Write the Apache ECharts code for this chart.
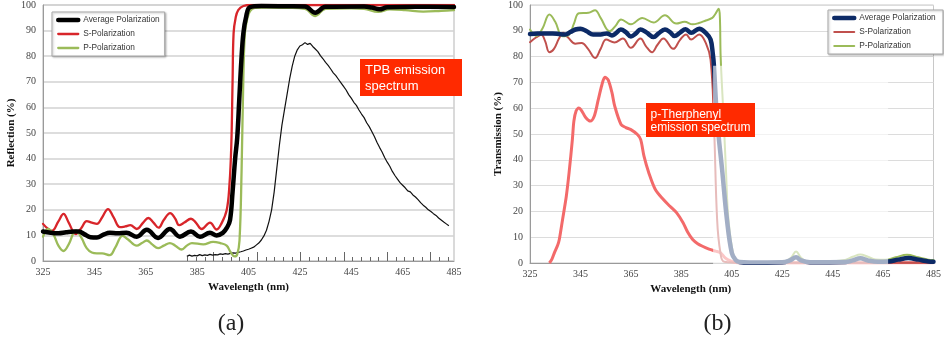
<!DOCTYPE html>
<html>
<head>
<meta charset="utf-8">
<script src="https://cdn.jsdelivr.net/npm/echarts@6/dist/echarts.min.js"></script>
<style>
html,body{margin:0;padding:0;background:#fff}
#chart{width:944px;height:343px}
</style>
</head>
<body>
<div id="chart"></div>
<script>
const SERIF = '"Liberation Serif", "Times New Roman", serif';
const SANS = '"Liberation Sans", Arial, sans-serif';

// shared wavelength axis labels (nm)
const wavelengthLabels = [325, 345, 365, 385, 405, 425, 445, 465, 485];
const legendNames = ['Average Polarization', 'S-Polarization', 'P-Polarization'];

// ---- (a) reflection, [wavelength nm, %] ----
const reflAvg = [[325,11.5],[328,11],[331,10.8],[334,11.2],[337,11.5],[339,11.5],[341,10.5],[343.5,9.3],[346,9.2],[348.5,10.3],[351,11],[354,10.8],[357.5,11],[361.5,9.5],[365.4,12.2],[369.8,9],[374.4,12.5],[378.3,9.5],[382.6,11.5],[386.1,9.5],[390,11],[392.6,10],[395,11],[396.6,13],[397.8,16],[398.8,27],[399.8,40],[400.6,48],[401.4,63],[402.2,78],[403,89],[404,95],[405.6,99.2],[410,99.6],[420,99.5],[427,99.4],[431,97],[435,99.3],[450,99.4],[453,99],[456,98.3],[459,99.1],[470,99.3],[485,99.2]];
const reflS = [[325,14.5],[327,12.5],[328.5,11.8],[331,15.5],[333,18.4],[335,15],[337.8,10.5],[340,13],[342,15.6],[344,15],[346,14.5],[348,17],[350.3,20.3],[352.5,17],[355,13.2],[357,13.5],[359,14],[361.5,12.5],[364,15],[366,16.8],[368,15],[370,13],[372,16],[374.5,18.7],[376.5,16.5],[378,14],[380,15],[382.6,16.5],[384.5,15],[386.8,12.5],[390,15],[392.6,12.3],[394.5,14.7],[396.5,19.8],[397.6,30],[398.3,45],[398.8,70],[399.2,89],[400,95],[401,98],[403,99.6],[406,100],[485,100]];
const reflP = [[325,9.5],[327,12.5],[329,10.5],[331,6],[333,3.9],[335,6.5],[337.8,12],[340,9],[342,5],[344,3.3],[346,3],[348,3],[351,2.3],[353,5],[356,9.8],[358,8.5],[361.5,6],[363.5,7],[365.4,8],[367.5,6.5],[369.8,5],[372,6],[374.4,7],[376.5,6],[379,4.5],[381,6],[383,7],[387.4,6.5],[391.2,7.5],[394,7],[396.5,6],[398,3.5],[399.6,1.8],[400.6,2.6],[401.5,8],[402.3,35],[403,72],[403.6,89],[404.5,94.5],[405.6,97.6],[407.5,98.9],[412,99],[420,98.9],[427,98.5],[431,95.7],[435,98.5],[445,98.7],[450,98.5],[455.5,97.3],[460,98.3],[466,98],[473,97.4],[480,97.7],[485,98]];
const tpbEmission = [[381,1.8],[382,2.3],[383,1.9],[384,2.2],[385,2.0],[386,2.5],[387,2.1],[388,2.4],[389,2.2],[390,2.6],[391,2.3],[392,2.5],[393,2.4],[394,2.8],[395,2.6],[396,2.9],[397,2.7],[398,3.0],[399,3.2],[400,3.1],[401,3.4],[402,3.6],[403,3.9],[404,4.3],[405,4.6],[406,5.0],[407,5.4],[408,6.2],[409,7.0],[410,8.2],[411,9.8],[412,12],[413,15.5],[414,20],[415,27],[416,36],[417,45],[418,53],[419,59],[420,65],[421,71],[422,76],[423,80],[424,82.5],[425,84],[426,84.5],[427,85.3],[428,84.6],[429,85],[430,83.8],[431,82.8],[432,81.8],[433,80.2],[434,79],[435,77.6],[436,76.4],[437,75],[438,73.5],[439,72.4],[440,71],[441,69.6],[442,68.2],[443,66.8],[444,65],[445,63.6],[446,62],[447,60.8],[448,59],[449,57.4],[450,56],[451,54],[452,52.5],[453,50.6],[454,48.6],[455,46.4],[456,44.4],[457,42.6],[458,40.4],[459,38.6],[460,37],[461,35],[462,33.4],[463,32],[464,30.6],[465,29.6],[466,28.6],[467,27.4],[468,27],[469,25.8],[470,25],[471,24],[472,22.8],[473,21.8],[474,21],[475,20],[476,19.3],[477,18.5],[478,17.8],[479,16.8],[480,16],[481,15.2],[482,14.5],[483,13.8]];
// scale of the inset emission plot: first tick (nm), spacing (nm), count, every 5th is long
const tpbScaleStart = 381.3, tpbScaleStep = 3.38, tpbScaleCount = 31, tpbScaleMajorOffset = 3;

// ---- (b) transmission, [wavelength nm, %] ----
const transAvg = [[325,88.8],[328,89],[331,89],[334,89],[337,88.7],[339,88.6],[341,89.5],[343,90.5],[345,90.8],[347.5,89.8],[350,88.6],[353,88.6],[355.5,89],[357.5,88.2],[359,89],[361,90.5],[363,89.5],[365,87.8],[367,89],[368.8,90.5],[371,89.5],[374,87.6],[376,89],[378.5,90.5],[380.5,89.5],[382.3,88],[384.5,89.3],[386.7,90.6],[388.9,89.2],[392.1,90.8],[394.7,89.2],[396.6,86.6],[397.5,81],[397.9,76.9],[399.2,55.6],[401.2,36],[403.1,16.8],[405,4],[406.5,1.2],[408,0.4],[412,0.2],[425,0.3],[428,1],[430.5,2.2],[432.5,1],[436,0.3],[450,0.4],[453,1],[456,1.8],[459,1],[463,0.5],[467,0.6],[471,1.3],[475,1.9],[479,1.3],[483,0.6],[485,0.5]];
const transS = [[325,85.6],[327.5,87.5],[329.5,88.5],[331,86],[332.7,81.7],[334.5,83],[336.5,87],[338.2,89.2],[340,87.5],[343,85],[345.5,85.3],[348,83],[350.8,79.5],[353,83],[355.2,86.6],[358.5,85.5],[361.8,87],[365,83.4],[368.8,87],[371,84],[373.4,81.7],[375.5,84.5],[377.9,87],[381.8,83],[384.5,86.5],[386.9,88.6],[388.9,86.6],[392.1,88.6],[394.7,85.3],[396.6,78.8],[397.9,55.6],[399.2,16.8],[400.5,4],[402,0.5],[410,0.1],[485,0.1]];
const transP = [[325,90.5],[327.6,88],[330,91],[332.7,96.3],[335,93.5],[337.9,87.9],[340.5,88.5],[342.5,93],[344.4,96.8],[348.2,97],[350.8,98],[353,95],[356.6,89.8],[359,92],[361.1,94.4],[365,92.5],[369.5,95],[374,93.2],[378.5,96],[383,92.8],[386.3,93.5],[389.5,92.5],[392,93],[394.7,94],[397.3,95],[398.5,96.5],[399.8,98.5],[400.3,95],[400.6,80],[401.8,55.6],[402.7,36],[403.7,16.8],[405.6,3.3],[407,1],[409,0.3],[420,0.3],[426,0.6],[428.5,2],[430.5,4.5],[432.5,2],[435,0.6],[445,0.7],[450,1.2],[453,2.4],[456,3.3],[459,2.4],[462,1.4],[466,1.3],[470,2.2],[474.5,3.2],[479,2.2],[483,1.3],[485,1.2]];
const terphenylEmission = [[332.7,0],[333.7,1.5],[334.7,4],[336,7],[336.6,9],[337.9,16.8],[339.4,25.9],[340.5,35],[341.8,47.8],[342.4,55],[343.3,59],[344.4,60.1],[345.5,59],[347,56.5],[348.9,55],[350.5,57],[352,63],[353.5,69],[354.7,72],[356,71],[357.5,66],[358.6,60.8],[361.1,53.7],[363,52.5],[365,51.7],[367.6,49.8],[368.9,47.8],[370.2,41.4],[372.1,35],[374.7,28.5],[377.9,24.6],[380.5,22],[383.1,19.5],[385.7,15.6],[387.5,12],[389.5,9.1],[391.5,7.5],[393.4,6.5],[396,5.4],[398.6,4.6],[400.5,4],[402.4,2],[404.5,0.8],[406.5,0.2],[410,0.1],[485,0.1]];
// washed-out band over the cut-off region: [nm from, nm to, % top]
const fadeBand = { from: 397.6, to: 467, top: 76.5 };

const tpbMinorTicks = [];
const tpbMajorTicks = [];
for (let i = 0; i < tpbScaleCount; i++) {
  const v = +(tpbScaleStart + i * tpbScaleStep).toFixed(2);
  tpbMinorTicks.push(v);
  if ((i - tpbScaleMajorOffset) % 5 === 0) tpbMajorTicks.push(v);
}

function wavelengthAxis(gridIndex, namePad) {
  return {
    type: 'value', gridIndex, min: 325, max: 485,
    name: 'Wavelength (nm)', nameLocation: 'middle', nameGap: 19,
    nameTextStyle: { fontFamily: SERIF, fontWeight: 'bold', fontSize: 11, color: '#111', padding: namePad },
    axisLine: { show: true, lineStyle: { color: '#9a9a9a', width: 1 } },
    axisTick: { show: false },
    axisLabel: { customValues: wavelengthLabels, fontFamily: SERIF, fontSize: 10, color: '#444', margin: 6 },
    splitLine: { show: false }
  };
}
function percentAxis(gridIndex, name, gap, gridColor, gridWidth) {
  return {
    type: 'value', gridIndex, min: 0, max: 100, interval: 10,
    name, nameLocation: 'middle', nameGap: gap,
    nameTextStyle: { fontFamily: SERIF, fontWeight: 'bold', fontSize: 11, color: '#111' },
    axisLine: { show: true, lineStyle: { color: '#9a9a9a', width: 1 } },
    axisTick: { show: false },
    axisLabel: { fontFamily: SERIF, fontSize: 10, color: '#444', margin: 7 },
    splitLine: { lineStyle: { color: gridColor, width: gridWidth } }
  };
}
function tickOnlyAxis(values, len) {
  return {
    type: 'value', gridIndex: 0, min: 325, max: 485, position: 'bottom',
    axisLine: { show: false }, axisLabel: { show: false }, splitLine: { show: false },
    axisTick: { show: true, inside: true, length: len, customValues: values, lineStyle: { color: '#666', width: 1 } }
  };
}
function legendBox(left, top, names) {
  return {
    left, top, orient: 'vertical', data: names, selectedMode: false,
    backgroundColor: '#fff', borderColor: '#a8a8a8', borderWidth: 1,
    shadowColor: 'rgba(0,0,0,0.25)', shadowBlur: 2, shadowOffsetX: 1, shadowOffsetY: 1,
    padding: [4, 5, 4, 4], itemGap: 6, itemWidth: 20, itemHeight: 10, itemTextGap: 1,
    lineStyle: { width: 'inherit' }, itemStyle: { opacity: 0 },
    textStyle: { fontFamily: SANS, fontSize: 8.3, color: '#333' }
  };
}
function curve(name, data, color, width, axis, z) {
  return {
    type: 'line', name, data, xAxisIndex: axis, yAxisIndex: axis,
    symbol: 'none', smooth: 0.4, z,
    lineStyle: { color, width, cap: 'round', join: 'round' },
    itemStyle: { color }
  };
}
// series of chart (b) carry a trailing space so each legend picks up its own colours
const namesB = legendNames.map(n => n + ' ');

const annotations = [
  { type: 'rect', z: 100, shape: { x: 360, y: 59, width: 102, height: 37 }, style: { fill: '#ff2a00' } },
  { type: 'text', z: 101, x: 365, y: 62, style: { text: 'TPB emission\nspectrum', fill: '#fff', font: '13px ' + SANS, lineHeight: 16, verticalAlign: 'top' } },
  { type: 'rect', z: 100, shape: { x: 646, y: 103, width: 109, height: 34 }, style: { fill: '#ff2a00' } },
  { type: 'text', z: 101, x: 650.5, y: 108.5, style: { text: 'p-Therphenyl\nemission spectrum', fill: '#fff', font: '12px ' + SANS, lineHeight: 12.7, verticalAlign: 'top' } },
  { type: 'line', z: 101, shape: { x1: 661.5, y1: 120.5, x2: 721.5, y2: 120.5 }, style: { stroke: '#fff', lineWidth: 1 } },
  { type: 'text', z: 101, x: 231, y: 324, style: { text: '(a)', fill: '#222', font: '24px ' + SERIF, align: 'center', verticalAlign: 'middle' } },
  { type: 'text', z: 101, x: 717.5, y: 324, style: { text: '(b)', fill: '#222', font: '24px ' + SERIF, align: 'center', verticalAlign: 'middle' } }
];

const chart = echarts.init(document.getElementById('chart'), null, { renderer: 'canvas' });
chart.setOption({
  animation: false,
  backgroundColor: '#fff',
  grid: [
    { left: 43, top: 5, width: 411, height: 256, show: true, borderColor: '#b5b5b5', borderWidth: 1 },
    { left: 530, top: 5, width: 413, height: 258, show: true, borderColor: '#c8c8c8', borderWidth: 1 }
  ],
  xAxis: [
    wavelengthAxis(0, [0, 0, 0, 0]),
    wavelengthAxis(1, [0, 82, 0, 0]),
    tickOnlyAxis(tpbMinorTicks, 4),
    tickOnlyAxis(tpbMajorTicks, 9)
  ],
  yAxis: [
    percentAxis(0, 'Reflection (%)', 24, '#d2d2d2', 1.5),
    percentAxis(1, 'Transmission (%)', 23, '#dcdcdc', 1)
  ],
  legend: [legendBox(52, 12, legendNames), legendBox(828, 10, namesB)],
  series: [
    {
      type: 'line', name: 'TPB emission spectrum', data: tpbEmission, xAxisIndex: 0, yAxisIndex: 0,
      symbol: 'none', z: 3, lineStyle: { color: '#111', width: 1.2 }
    },
    curve(legendNames[1], reflS, '#d8252a', 2.3, 0, 4),
    curve(legendNames[2], reflP, '#9bbb59', 2.3, 0, 4),
    curve(legendNames[0], reflAvg, '#000000', 4.5, 0, 5),

    {
      type: 'line', name: 'p-Therphenyl emission spectrum', data: terphenylEmission, xAxisIndex: 1, yAxisIndex: 1,
      symbol: 'none', smooth: 0.3, z: 2, lineStyle: { color: '#f36a6a', width: 3 }
    },
    curve(namesB[1], transS, '#c0504d', 2, 1, 3),
    curve(namesB[2], transP, '#9bbb59', 2, 1, 3),
    curve(namesB[0], transAvg, '#0c2a66', 4.5, 1, 4)
  ],
  graphic: annotations
});

// white wash over the cut-off band, placed from its data coordinates
const p1 = chart.convertToPixel({ gridIndex: 1 }, [fadeBand.from, fadeBand.top]);
const p2 = chart.convertToPixel({ gridIndex: 1 }, [fadeBand.to, 0]);
chart.setOption({
  graphic: annotations.concat([{
    type: 'rect', z: 50, silent: true,
    shape: { x: p1[0], y: p1[1], width: p2[0] - p1[0], height: p2[1] - p1[1] + 1 },
    style: { fill: 'rgba(255,255,255,0.62)' }
  }])
});
</script>
</body>
</html>
